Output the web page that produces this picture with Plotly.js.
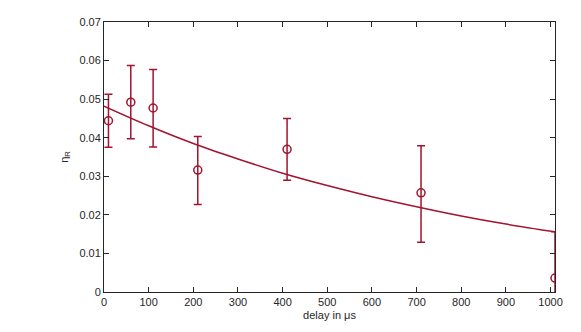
<!DOCTYPE html>
<html>
<head>
<meta charset="utf-8">
<script src="https://cdn.plot.ly/plotly-3.0.1.min.js"></script>
<style>
  html, body { margin: 0; padding: 0; background: #fff; }
  #chart { width: 581px; height: 332px; }
</style>
</head>
<body>
<div id="chart"></div>
<script>
// measured points with error bars
const delay = [10, 60, 110, 210, 410, 710, 1010];
const eta = [0.0444, 0.0492, 0.0477, 0.0316, 0.0370, 0.0257, 0.0036];
const errUp = [0.0069, 0.0095, 0.0100, 0.0087, 0.0080, 0.0122, 0.0120];
const errDown = [0.0069, 0.0095, 0.0101, 0.0089, 0.0080, 0.0128, 0.0120];

// fitted curve
const fitDelay = [0, 100, 200, 300, 400, 500, 600, 700, 800, 900, 1010];
const fitEta = [0.0482, 0.0431, 0.0385, 0.0345, 0.0308, 0.0276, 0.0247, 0.0221, 0.0197, 0.0176, 0.0156];

const red = "#A2142F";
const axisColor = "#262626";
const font = "Liberation Sans, Arial, sans-serif";

const traceFit = {
  x: fitDelay,
  y: fitEta,
  type: "scatter",
  mode: "lines",
  line: { color: red, width: 1.5, shape: "spline" },
  hoverinfo: "skip"
};

const tracePoints = {
  x: delay,
  y: eta,
  type: "scatter",
  mode: "markers",
  marker: { symbol: "circle-open", size: 8, color: red, line: { width: 1.5, color: red } },
  error_y: {
    type: "data",
    symmetric: false,
    array: errUp,
    arrayminus: errDown,
    color: red,
    thickness: 1.5,
    width: 4
  }
};

const axisCommon = {
  showline: true,
  linecolor: axisColor,
  linewidth: 1,
  mirror: "ticks",
  ticks: "inside",
  ticklen: 5,
  tickcolor: axisColor,
  showgrid: false,
  zeroline: false,
  tickfont: { family: font, size: 11, color: axisColor }
};

const layout = {
  width: 581,
  height: 332,
  margin: { l: 104, r: 26, t: 22, b: 40 },
  paper_bgcolor: "#fff",
  plot_bgcolor: "#fff",
  showlegend: false,
  xaxis: Object.assign({}, axisCommon, {
    range: [0, 1010],
    dtick: 100,
    tick0: 0,
    title: { text: "delay in μs", standoff: 4, font: { family: font, size: 11, color: axisColor } }
  }),
  yaxis: Object.assign({}, axisCommon, {
    range: [0, 0.07],
    dtick: 0.01,
    tick0: 0,
    title: { text: "η<sub>R</sub>", standoff: 8, font: { family: font, size: 11, color: axisColor } }
  })
};

Plotly.newPlot("chart", [traceFit, tracePoints], layout, { displayModeBar: false, staticPlot: true });
</script>
</body>
</html>
